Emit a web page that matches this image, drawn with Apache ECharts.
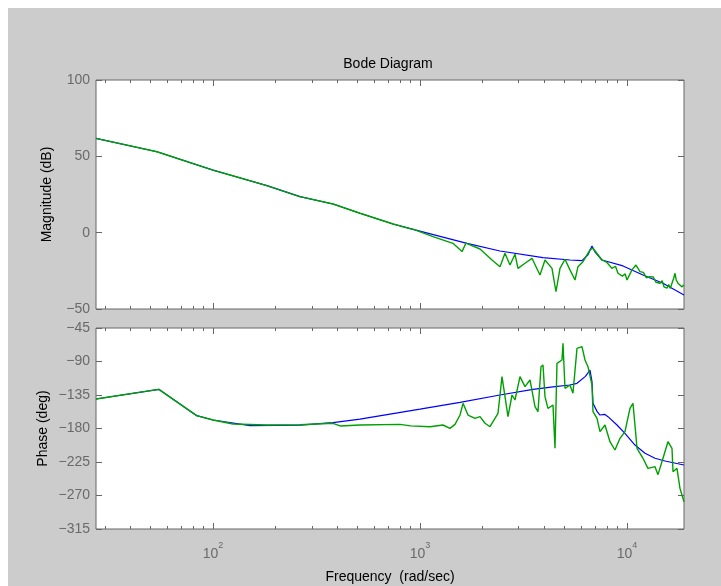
<!DOCTYPE html>
<html><head><meta charset="utf-8">
<script src="https://cdn.jsdelivr.net/npm/echarts@6/dist/echarts.min.js"></script>
<style>html,body{margin:0;padding:0;background:#fff}#c{width:721px;height:586px}</style>
</head><body><div id="c"></div>
<script>
const chartTitle = 'Bode Diagram';
const xName = 'Frequency  (rad/sec)';
const magName = 'Magnitude (dB)';
const phaseName = 'Phase (deg)';
const xDecades = [2, 3, 4];
const xMinorTicks = [30,40,50,60,70,80,90,200,300,400,500,600,700,800,900,2000,3000,4000,5000,6000,7000,8000,9000];
const xRange = [27.2, 18860];
const magRange = [-50, 100];
const magStep = 50;
const phaseRange = [-315, -45];
const phaseStep = 45;

// Magnitude, model (blue)
const magModelFreq = [27.2,53.6,100,120.8,182,263,380,513,741,946,1687,2435,3929,5304,6063,6481,6776,7000,7572,9566,11950,14930,18860];
const magModelDb   = [61.8,53.0,41.0,37.8,30.8,23.6,18.8,12.7,5.7,1.8,-7.0,-12.0,-16.4,-17.9,-18.3,-14.5,-8.7,-12.5,-17.9,-21.8,-27.7,-33.1,-40.8];

// Magnitude, measured (green)
const magMeasFreq = [27.2,53.6,100,120.8,182,263,380,513,741,801,946,1155,1443,1596,1668,1687,1950,2228,2435,2574,2722,2877,2974,3216,3475,3799,4017,4342,4539,4747,5018,5304,5609,5799,6131,6627,6852,7572,8000,8461,8800,9048,9500,9800,10000,10200,10570,11050,11560,12000,12400,12920,13400,13800,14440,14800,15100,15610,15900,16200,16500,16800,17060,17300,17640,18000,18400,18860];
const magMeasDb   = [61.8,53.0,41.0,37.8,30.8,23.6,18.8,12.7,5.7,4.4,1.8,-2.6,-7.0,-12.4,-6.8,-7.6,-10.7,-17.9,-22.3,-13.5,-21.2,-14.1,-23.4,-20.0,-16.8,-27.7,-17.9,-23.4,-38.7,-23.4,-17.4,-24.4,-31.0,-22.3,-19.0,-11.3,-10.2,-17.9,-19.5,-23.4,-22.0,-26.6,-28.5,-27.0,-31.0,-30.0,-24.4,-21.2,-25.5,-26.0,-29.5,-28.8,-29.0,-32.5,-33.1,-31.5,-35.5,-36.4,-34.0,-36.5,-33.1,-30.0,-26.6,-31.0,-33.1,-32.0,-35.5,-34.3];

// Phase, model (blue)
const phModelFreq = [27.2,54.7,83.4,100,151,263,380,513,1000,1561,2435,3515,4490,5304,5735,6300,6627,6776,6852,7165,7406,7800,8094,8948,9779,10930,12220,13660,15260,18860];
const phModelDeg  = [-140.4,-127.4,-162.8,-168.6,-176.2,-175.5,-172,-167.5,-154,-144.8,-135,-127.4,-123.8,-121.6,-119.3,-110,-101.4,-117,-146.2,-157,-161.9,-161,-164.1,-175.3,-186.5,-202.2,-213.3,-220,-223.7,-229];

// Phase, measured (green)
const phMeasFreq = [27.2,54.7,83.4,100,124.9,182,263,380,411,513,801,900,1117,1291,1396,1476,1561,1614,1706,1844,1950,2061,2179,2381,2490,2546,2662,2783,2877,3042,3216,3400,3594,3716,3842,3929,4017,4153,4391,4490,4590,4853,4908,5018,5304,5484,5735,6063,6269,6481,6776,6852,7165,7406,7829,8277,8750,9252,9779,10340,10690,10930,11180,11950,12630,13660,14120,14930,15780,16500,16690,17440,18030,18860];
const phMeasDeg  = [-140.4,-127.4,-162.8,-168.6,-174,-175.3,-174.9,-173,-176.6,-175.3,-174.5,-176.5,-177.6,-175.3,-179.8,-174.4,-161.9,-146.2,-161.9,-166.3,-164.1,-173,-177.6,-159.6,-110.4,-112.6,-164.1,-135,-141.7,-110.4,-123.8,-114.8,-150.7,-157.4,-97,-94.7,-137.2,-152.9,-148.4,-206.6,-92.5,-88,-65.6,-126,-121.6,-132.7,-72.3,-70,-88,-97,-121.6,-157.4,-166.3,-184.3,-175.3,-197.7,-208.9,-193.2,-184.3,-152.9,-146.2,-175.3,-206.6,-220,-233.5,-231.3,-242,-220,-197.7,-206.6,-238,-233.5,-260.2,-278.3];

const FONT = '"Liberation Sans", Arial, sans-serif';
const AX = '#666666';
const LBL = '#6a6a6a';
const lg = v => Math.log10(v);
const pts = (f, v) => f.map((x, i) => [lg(x), v[i]]);
const minus = v => String(v).replace('-', '\u2212');

const grids = [
  { left: 96, top: 80, width: 588, height: 229 },
  { left: 96, top: 328, width: 588, height: 201 }
];

const xAxes = [];
grids.forEach((g, gi) => {
  ['bottom', 'top'].forEach(pos => {
    [[xDecades, 6], [xMinorTicks.map(lg), 3]].forEach(([vals, len], k) => {
      const showLabel = gi === 1 && pos === 'bottom' && k === 0;
      xAxes.push({
        type: 'value', gridIndex: gi, position: pos,
        min: lg(xRange[0]), max: lg(xRange[1]),
        axisLine: { show: false, onZero: false },
        splitLine: { show: false },
        axisTick: { show: true, inside: true, length: len, customValues: vals, lineStyle: { color: AX, width: 1 } },
        axisLabel: showLabel ? {
          show: true, customValues: xDecades, margin: 12,
          formatter: v => '{b|10}{s|' + Math.round(v) + '}',
          rich: {
            b: { fontSize: 14, fontFamily: FONT, color: LBL, lineHeight: 20, verticalAlign: 'bottom' },
            s: { fontSize: 9, fontFamily: FONT, color: LBL, lineHeight: 6, verticalAlign: 'top' }
          }
        } : { show: false },
        name: showLabel ? xName : '',
        nameLocation: 'middle', nameGap: 41, nameMoveOverlap: false,
        nameTextStyle: { fontSize: 14, fontFamily: FONT, color: '#000' }
      });
    });
  });
});

const yDefs = [
  { gi: 0, r: magRange, step: magStep, name: magName, gap: 42 },
  { gi: 1, r: phaseRange, step: phaseStep, name: phaseName, gap: 46 }
];
const yAxes = [];
yDefs.forEach(d => {
  ['left', 'right'].forEach(pos => {
    yAxes.push({
      type: 'value', gridIndex: d.gi, position: pos,
      min: d.r[0], max: d.r[1], interval: d.step,
      axisLine: { show: false, onZero: false },
      splitLine: { show: false },
      axisTick: { show: true, inside: true, length: 6, lineStyle: { color: AX, width: 1 } },
      axisLabel: pos === 'left' ? { show: true, margin: 6, fontSize: 14, fontFamily: FONT, color: LBL, formatter: minus } : { show: false },
      name: pos === 'left' ? d.name : '',
      nameLocation: 'middle', nameGap: d.gap, nameRotate: 90, nameMoveOverlap: false,
      nameTextStyle: { fontSize: 14, fontFamily: FONT, color: '#000' }
    });
  });
});

const line = (data, color, xi, yi, z, w) => ({
  type: 'line', data, xAxisIndex: xi, yAxisIndex: yi, showSymbol: false, symbol: 'none',
  lineStyle: { color, width: w }, itemStyle: { color }, z, animation: false, silent: true
});

const chart = echarts.init(document.getElementById('c'), null, { renderer: 'canvas' });
chart.setOption({
  backgroundColor: '#ffffff',
  animation: false,
  graphic: [{ type: 'rect', z: -10, silent: true, shape: { x: 8, y: 8, width: 713, height: 578 }, style: { fill: '#cccccc' } }],
  title: { text: chartTitle, left: 383, top: 52, textAlign: 'center', textStyle: { fontSize: 14, fontWeight: 'normal', fontFamily: FONT, color: '#000' } },
  grid: grids.map(g => Object.assign({ show: true, backgroundColor: '#ffffff', borderColor: AX, borderWidth: 1 }, g)),
  xAxis: xAxes,
  yAxis: yAxes,
  series: [
    line(pts(magModelFreq, magModelDb), '#0000ff', 0, 0, 2, 1.2),
    line(pts(magMeasFreq, magMeasDb), '#00a000', 0, 0, 3, 1.4),
    line(pts(phModelFreq, phModelDeg), '#0000ff', 4, 2, 2, 1.2),
    line(pts(phMeasFreq, phMeasDeg), '#00a000', 4, 2, 3, 1.4)
  ]
});
</script></body></html>
